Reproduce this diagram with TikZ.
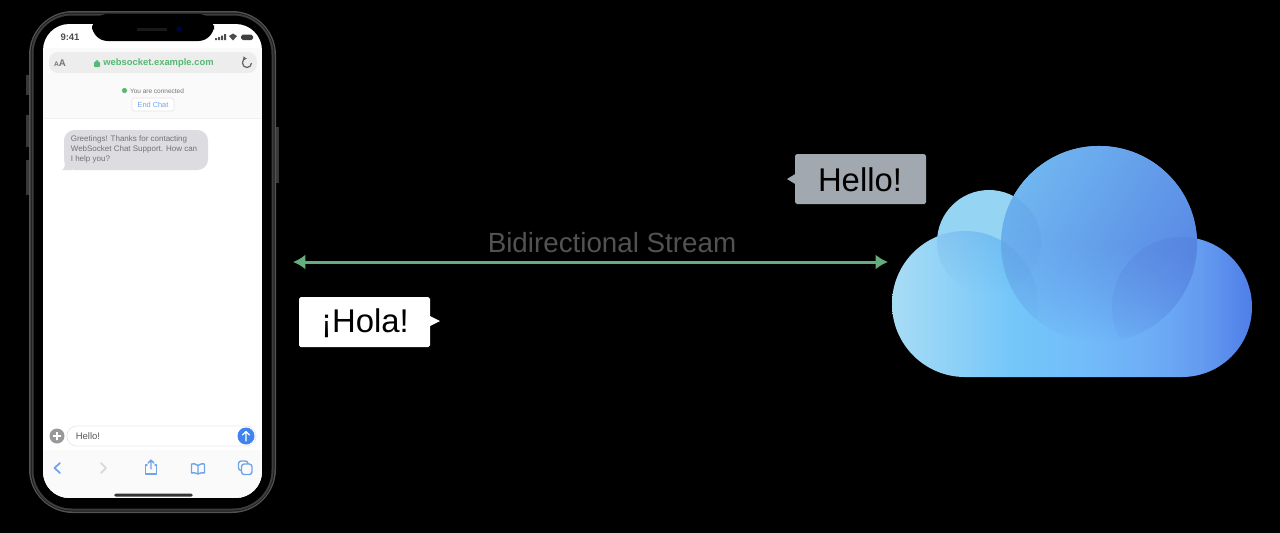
\documentclass[tikz,border=0pt]{standalone}
\usepackage{fontspec}
\setmainfont{Liberation Sans}
\usetikzlibrary{arrows.meta,fadings}
\def\px[#1]#2{\fontsize{#1}{#1}\selectfont #2}
\def\cloudlower{(965, 304) circle (73) (1182, 307) circle (70) (1099, 244) circle (98) (1182, 304) rectangle (965, 377)}
\definecolor{screenbg}{HTML}{FAFAFA}
\definecolor{linkblue}{HTML}{6FA3EA}
\definecolor{sendblue}{HTML}{3F83EE}
\definecolor{streamgreen}{HTML}{65AD7D}
\definecolor{urlgreen}{HTML}{55B873}
\definecolor{bubblegray}{HTML}{DCDCE1}
\definecolor{helloboxgray}{HTML}{A2A8AF}
\definecolor{cloudA}{RGB}{168,220,245}
\definecolor{cloudB}{RGB}{116,198,249}
\definecolor{cloudC}{RGB}{114,189,250}
\definecolor{cloudD}{RGB}{110,174,246}
\definecolor{cloudF}{RGB}{100,156,240}
\definecolor{cloudE}{RGB}{79,126,232}
\definecolor{cloudsmall}{RGB}{150,212,243}
\definecolor{cloudtopA}{RGB}{112,182,240}
\definecolor{cloudtopB}{RGB}{88,135,228}
\definecolor{tintleft}{RGB}{60,125,210}
\definecolor{tintright}{RGB}{75,110,205}
\pgfdeclarehorizontalshading{cloudbase}{100bp}{color(0bp)=(cloudA); color(25bp)=(cloudA); color(41.8bp)=(cloudB); color(51.1bp)=(cloudC); color(60.4bp)=(cloudD); color(67.8bp)=(cloudF); color(75bp)=(cloudE); color(100bp)=(cloudE)}
\tikzfading[name=bigfade, bottom color=transparent!100, top color=transparent!0, middle color=transparent!0]
\tikzset{
	speech/.style={inner sep=0pt, text=black},
	tiny/.style={inner sep=0pt, text=black!55},
	icon/.style={draw=linkblue, line width=0.8pt, line join=round, line cap=round},
	stream/.style={draw=streamgreen, line width=1.7pt, {Latex[length=7pt,width=8.5pt]}-{Latex[length=7pt,width=8.5pt]}},
}

\begin{document}
\begin{tikzpicture}[x=0.02cm, y=-0.02cm]
	\useasboundingbox (0, 0) rectangle (1280, 532);
	\fill[black] (-5, -5) rectangle (1285, 537);
	
	% phone body and buttons
	\fill[black!78] (26, 75) rectangle (30, 95);
	\fill[black!78] (26, 115) rectangle (30, 147);
	\fill[black!78] (26, 160) rectangle (30, 195);
	\fill[black!78] (275, 127) rectangle (279, 183);
	\fill[black!68, rounded corners=25pt] (29, 11) rectangle (276, 513);
	\fill[black!90, rounded corners=24pt] (30.5, 12.5) rectangle (274.5, 511.5);
	\fill[black!76, rounded corners=23pt] (31.5, 13.5) rectangle (273.5, 510.5);
	\fill[black, rounded corners=22pt] (33.5, 15.5) rectangle (271.5, 508.5);
	
	% screen
	\begin{scope}
		\clip[rounded corners=15pt] (43, 24) rectangle (262, 498);
		\fill[white] (43, 24) rectangle (262, 498);
		\fill[screenbg] (43, 48) rectangle (262, 118);
		\fill[screenbg] (43, 450) rectangle (262, 498);
		\draw[black!6, line width=0.5pt] (43, 118) -- (262, 118);
	\end{scope}
	\fill[black, rounded corners=9pt] (92, 14) rectangle (214, 41);
	\fill[black!90] (137, 27.5) rectangle (167, 30.5);
	\fill[blue!30!black] (179, 29) circle (2.5);
	
	% status bar
	\node[tiny, text=black!70] (clock) at (70, 37) {\px[5.4]{\bfseries 9:41}};
	\fill[black!70] (215, 38) rectangle (217, 40) (218, 37) rectangle (220, 40) (221, 35.5) rectangle (223, 40) (224, 34) rectangle (226, 40);
	\fill[black!70] (229, 36) -- (233, 33.5) -- (237, 36) -- (233, 40.5) -- cycle;
	\fill[black!75, rounded corners=1pt] (241, 34.5) rectangle (253, 40);
	
	% address bar
	\fill[black!7, rounded corners=5pt] (49, 52) rectangle (257, 73);
	\node[tiny] (textsize) at (60, 63) {\px[3.8]{\bfseries A}\px[5.5]{\bfseries A}};
	\fill[urlgreen, rounded corners=0.5pt] (94, 62) rectangle (100, 67);
	\draw[urlgreen, line width=0.6pt] (95.5, 62) arc (180:360:1.5);
	\node[inner sep=0pt, text=urlgreen] (url) at (158.5, 63) {\px[5.35]{\bfseries websocket.example.com}};
	\draw[black!60, line width=0.7pt, -{Latex[length=2pt,width=2.5pt]}] (251.5, 63) arc (0:270:4.5);
	
	% connection line and chat
	\fill[urlgreen] (124.5, 90.5) circle (2.6);
	\node[tiny] (connected) at (157, 91) {\px[3.7]{You are connected}};
	\node[draw=black!10, fill=white, rounded corners=1.5pt, line width=0.4pt, minimum width=24pt, minimum height=7.5pt, inner sep=0pt, text=linkblue] (endchat) at (153, 104.5) {\px[4.2]{End Chat}};
	\fill[bubblegray, rounded corners=6pt] (64, 130) rectangle (208, 170);
	\fill[bubblegray] (62, 170) .. controls (65, 168) and (65, 165) .. (65, 162) -- (72, 170) -- cycle;
	\node[tiny, align=left, anchor=north west, font=\fontsize{4.55}{5.6}\selectfont] (greeting) at (70.5, 135.5) {Greetings! Thanks for contacting\\WebSocket Chat Support. How can\\I help you?};
	
	% message row
	\fill[black!40] (57, 436) circle (7.5);
	\fill[white] (53, 435.2) rectangle (61, 436.8) (56.2, 432) rectangle (57.8, 440);
	\draw[black!8, fill=white, line width=0.5pt, rounded corners=5.5pt] (67, 426) rectangle (256, 446);
	\node[tiny, text=black!65] (draft) at (88, 436) {\px[5.4]{Hello!}};
	\fill[sendblue] (246, 436) circle (8.5);
	\draw[white, line width=0.7pt, line cap=round, line join=round] (246, 441) -- (246, 431.5) (242.5, 435) -- (246, 431.5) -- (249.5, 435);
	
	% toolbar
	\draw[icon, line width=1pt] (60, 463) -- (54.5, 468) -- (60, 473);
	\draw[icon, draw=black!15, line width=1pt] (101, 463) -- (106, 468) -- (101, 473);
	\draw[icon] (147, 465) -- (145.5, 465) -- (145.5, 474) -- (156.5, 474) -- (156.5, 465) -- (155, 465);
	\draw[icon] (151, 469) -- (151, 460) (148, 463) -- (151, 460) -- (154, 463);
	\draw[icon] (198, 465.5) .. controls (196, 463.5) and (193, 463.5) .. (191.5, 464) -- (191.5, 473) .. controls (193, 472.5) and (196, 472.5) .. (198, 474) .. controls (200, 472.5) and (203, 472.5) .. (204.5, 473) -- (204.5, 464) .. controls (203, 463.5) and (200, 463.5) .. (198, 465.5) -- (198, 474);
	\draw[icon, rounded corners=1.5pt] (238.5, 461) rectangle (248, 470.5);
	\draw[icon, fill=screenbg, rounded corners=1.5pt] (241.5, 464) rectangle (252, 474.5);
	\fill[black!80, rounded corners=1pt] (114, 493.5) rectangle (193, 496.5);
	
	% stream between phone and cloud
	\coordinate (phoneend) at (293, 262);
	\coordinate (cloudend) at (888, 262);
	\draw[stream] (phoneend) -- (cloudend);
	\node[inner sep=0pt, text=black!68] (streamlabel) at (612, 243) {\px[15.8]{Bidirectional Stream}};
	
	% speech boxes
	\fill[helloboxgray] (787, 179) -- (796, 173.5) -- (796, 184.5) -- cycle;
	\fill[helloboxgray, rounded corners=1pt] (795, 154) rectangle (926, 204);
	\node[speech] (hello) at (860, 180) {\px[18.7]{Hello!}};
	\fill[white] (440, 321) -- (429, 315.5) -- (429, 326.5) -- cycle;
	\fill[white, rounded corners=1pt] (299, 297) rectangle (430, 347);
	\node[speech] (hola) at (365, 323) {\px[18.7]{¡Hola!}};
	
	% cloud
	\fill[cloudsmall] (989, 242) circle (52);
	\begin{scope}
		\clip \cloudlower;
		\shade[shading=cloudbase] (892, 146) rectangle (1252, 377);
	\end{scope}
	\begin{scope}
		\clip (965, 304) circle (73);
		\fill[tintleft, opacity=0.25, path fading=south] (989, 242) circle (52);
	\end{scope}
	\shade[left color=cloudtopA, right color=cloudtopB, shading angle=60, path fading=bigfade] (1099, 244) circle (98);
	\begin{scope}
		\clip (1099, 244) circle (98);
		\fill[tintleft, opacity=0.14, path fading=south] (989, 242) circle (52);
		\fill[tintleft, opacity=0.1, path fading=south] (965, 304) circle (73);
		\fill[tintright, opacity=0.2, path fading=south] (1182, 307) circle (70);
	\end{scope}
\end{tikzpicture}
\end{document}
